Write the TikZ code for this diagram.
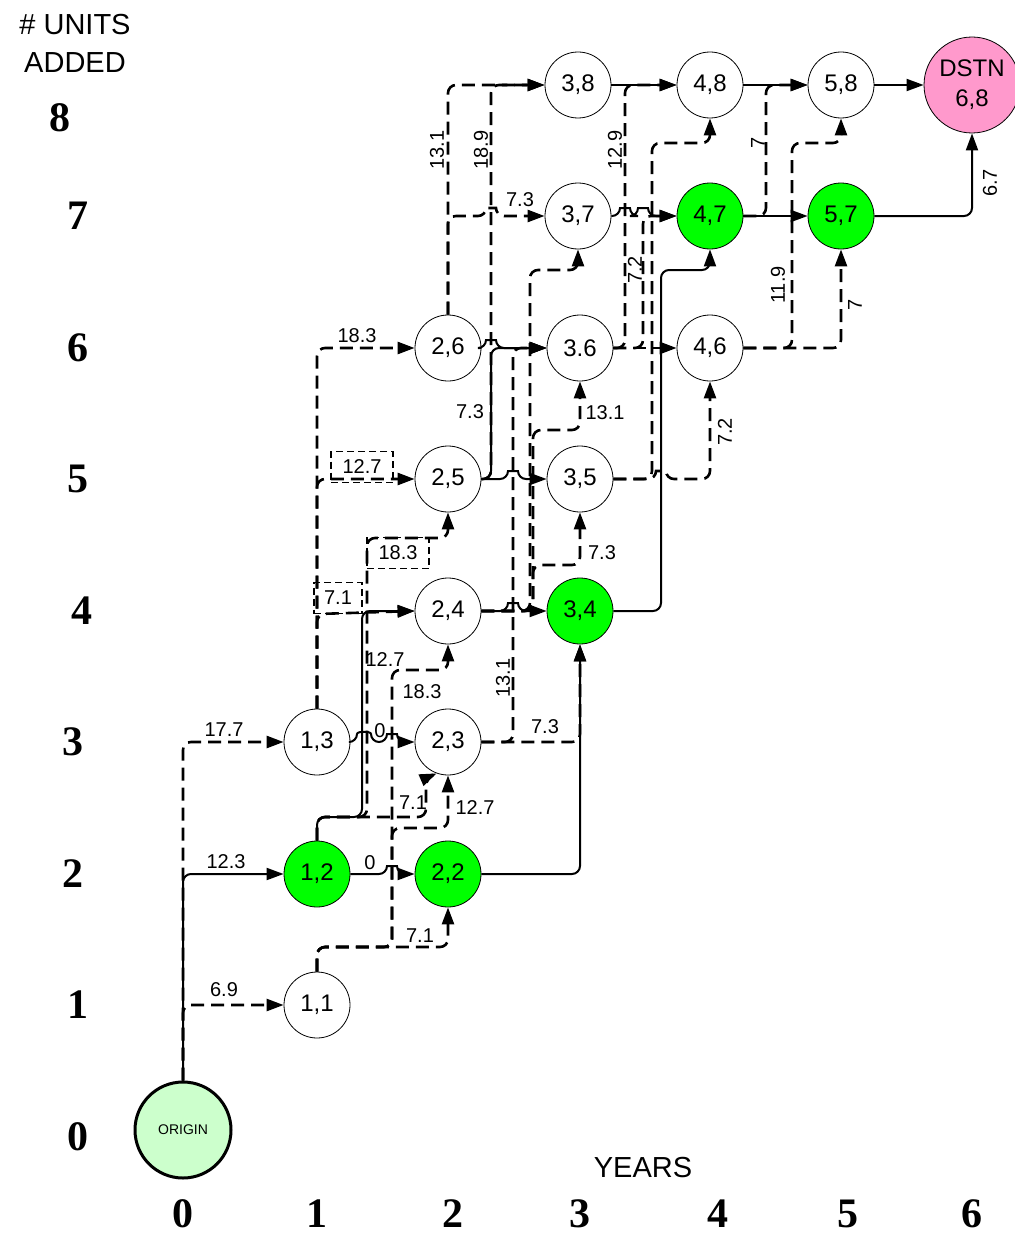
\documentclass[tikz,border=0pt]{standalone}
\usepackage{fontspec}
\setmainfont{Liberation Sans}
\newfontfamily\axisfont{Liberation Serif}
\usetikzlibrary{arrows.meta}
\definecolor{nodegreen}{HTML}{00FF00}
\definecolor{origgreen}{HTML}{CCFFCC}
\definecolor{dstpink}{HTML}{FF99CC}
\begin{document}
\begin{tikzpicture}[x=1pt,y=-1pt,
  st/.style={circle,draw,line width=0.8pt,minimum size=66pt,inner sep=0pt,font=\fontsize{24}{24}\selectfont,fill=white},
  grn/.style={st,fill=nodegreen},
  sol/.style={line width=2pt,rounded corners=8pt,-{Triangle[length=17pt,width=12pt]}},
  dsh/.style={sol,line width=2.6pt,dash pattern=on 13pt off 7pt},
  lab/.style={font=\fontsize{20}{20}\selectfont,inner sep=0pt},
  rlab/.style={lab,rotate=90},
  blab/.style={lab,draw,line width=1.5pt,dash pattern=on 7pt off 4pt,minimum width=62pt,minimum height=31pt},
  ax/.style={font=\axisfont\bfseries\fontsize{42}{42}\selectfont,inner sep=0pt},
  xax/.style={ax,anchor=base},
  ttl/.style={font=\fontsize{29}{38}\selectfont,inner sep=0pt,align=center}]
\useasboundingbox (0,0) rectangle (1014,1236);

% nodes
\node[circle,draw,line width=3pt,fill=origgreen,minimum size=96pt,inner sep=0pt,font=\fontsize{14}{14}\selectfont] (O) at (183,1130) {ORIGIN};
\node[st] (n11) at (317,1005) {1,1};
\node[grn] (n12) at (317,874) {1,2};
\node[st] (n13) at (317,742) {1,3};
\node[grn] (n22) at (448,874) {2,2};
\node[st] (n23) at (448,742) {2,3};
\node[st] (n24) at (448,611) {2,4};
\node[st] (n25) at (448,479) {2,5};
\node[st] (n26) at (448,348) {2,6};
\node[grn] (n34) at (580,611) {3,4};
\node[st] (n35) at (580,479) {3,5};
\node[st] (n36) at (580,348) {3.6};
\node[st] (n37) at (578,216) {3,7};
\node[st] (n38) at (578,85) {3,8};
\node[st] (n46) at (710,348) {4,6};
\node[grn] (n47) at (710,216) {4,7};
\node[st] (n48) at (710,85) {4,8};
\node[grn] (n57) at (841,216) {5,7};
\node[st] (n58) at (841,85) {5,8};
\node[circle,draw,line width=0.8pt,fill=dstpink,minimum size=96pt,inner sep=0pt,align=center,font=\fontsize{24}{30}\selectfont] (D) at (972,85) {DSTN\\6,8};

% origin edges
\draw[dsh] (O.north) -- (183,1005) -- (n11.west);
\draw[sol] (O.north) -- (183,874) -- (n12.west);
\draw[dsh] (O.north) -- (183,742) -- (n13.west);

% from 1,1
\draw[dsh] (n11.north) -- (317,947) -- (448,947) -- (n22.south);
\draw[dsh] (n11.north) -- (317,947) -- (392,947) -- (392,828) -- (448,828) -- (n23.south);
\draw[dsh] (n11.north) -- (317,947) -- (392,947) -- (392,670) -- (448,670) -- (n24.south);

% from 1,2
\draw[sol] (n12.east) -- (387,874) .. controls (387,866) and (397,866) .. (397,874) -- (n22.west);
\draw[sol] (n12.north) -- (317,817) -- (362,817) -- (362,611) -- (n24.west);
\draw[dsh] (n12.north) -- (317,817) -- (426,817) -- (426,778) -- (n23.-110);
\draw[dsh] (n12.north) -- (317,817) -- (367,817) -- (367,538) -- (448,538) -- (n25.south);

% from 1,3
\draw[sol] (n13.east) -- (357,742) .. controls (357,731) and (371,731) .. (371,742) -- (387,742) .. controls (387,734) and (397,734) .. (397,742) -- (n23.west);
\draw[dsh] (n13.north) -- (317,348) -- (n26.west);
\draw[dsh] (n13.north) -- (317,479) -- (n25.west);
\draw[dsh] (n13.north) -- (317,614) -- (n24.west);

% from 2,2 / 2,3
\draw[sol] (n22.east) -- (580,874) -- (n34.south);
\draw[dsh] (n23.east) -- (580,742) -- (n34.south);
\draw[dsh] (n23.east) -- (513,742) -- (513,348) -- (n36.west);

% from 2,4
\draw[sol] (n24.east) -- (508,611) .. controls (508,603) and (518,603) .. (518,611) -- (n34.west);
\draw[dsh] (n24.east) -- (533,611) -- (533,565) -- (580,565) -- (n35.south);
\draw[dsh] (n24.east) -- (533,611) -- (533,430) -- (580,430) -- (n36.south);
\draw[dsh] (n24.east) -- (530,611) -- (530,270) -- (578,270) -- (n37.south);

% from 2,5
\draw[sol] (n25.east) -- (508,479) .. controls (508,471) and (518,471) .. (518,479) -- (n35.west);
\draw[sol] (n25.east) -- (491,479) -- (491,348) -- (n36.west);
\draw[dsh] (n25.east) -- (491,479) -- (491,85) -- (n38.west);

% from 2,6
\draw[sol] (n26.east) -- (486,348) .. controls (486,340) and (496,340) .. (496,348) -- (n36.west);
\draw[dsh] (n26.north) -- (448,216) -- (486,216) .. controls (486,208) and (496,208) .. (496,216) -- (n37.west);
\draw[dsh] (n26.north) -- (448,85) -- (n38.west);

% year 3 -> 4
\draw[sol] (n34.east) -- (661,611) -- (661,270) -- (710,270) -- (n47.south);
\draw[dsh] (n35.east) -- (656,479) .. controls (656,471) and (666,471) .. (666,479) -- (710,479) -- (n46.south);
\draw[dsh] (n35.east) -- (652,479) -- (652,143) -- (710,143) -- (n48.south);
\draw[dsh] (n36.east) -- (n46.west);
\draw[dsh] (n36.east) -- (643,348) -- (643,216) -- (n47.west);
\draw[dsh] (n36.east) -- (625,348) -- (625,85) -- (n48.west);
\draw[sol] (n37.east) -- (620,216) .. controls (620,208) and (630,208) .. (630,216) -- (638,216) .. controls (638,208) and (648,208) .. (648,216) -- (n47.west);
\draw[sol] (n38.east) -- (n48.west);

% year 4 -> 5
\draw[dsh] (n46.east) -- (841,348) -- (n57.south);
\draw[dsh] (n46.east) -- (792,348) -- (792,143) -- (841,143) -- (n58.south);
\draw[sol] (n47.east) -- (n57.west);
\draw[dsh] (n47.east) -- (766,216) -- (766,85) -- (n58.west);
\draw[sol] (n48.east) -- (n58.west);

% year 5 -> 6
\draw[sol] (n57.east) -- (972,216) -- (D.south);
\draw[sol] (n58.east) -- (D.west);

% edge labels
\node[lab] (l1) at (224,990) {6.9};
\node[lab] (l2) at (226,862) {12.3};
\node[lab] (l3) at (224,730) {17.7};
\node[lab] (l4) at (420,936) {7.1};
\node[lab] (l5) at (475,808) {12.7};
\node[lab] (l6) at (422,692) {18.3};
\node[lab] (l7) at (370,863) {0};
\node[lab] (l8) at (385,660) {12.7};
\node[lab] (l9) at (413,803) {7.1};
\node[blab] (l10) at (398,553) {18.3};
\node[lab] (l11) at (380,731) {0};
\node[lab] (l12) at (357,336) {18.3};
\node[blab] (l13) at (362,467) {12.7};
\node[blab,minimum width=48pt] (l14) at (338,598) {7.1};
\node[lab] (l15) at (545,727) {7.3};
\node[rlab] (l16) at (503,678) {13.1};
\node[lab] (l17) at (602,553) {7.3};
\node[lab] (l18) at (605,413) {13.1};
\node[lab] (l19) at (470,412) {7.3};
\node[rlab] (l20) at (481,150) {18.9};
\node[lab] (l21) at (520,200) {7.3};
\node[rlab] (l22) at (437,150) {13.1};
\node[rlab] (l23) at (725,432) {7.2};
\node[rlab] (l24) at (635,270) {7.2};
\node[rlab] (l25) at (615,150) {12.9};
\node[rlab] (l26) at (855,305) {7};
\node[rlab] (l27) at (778,285) {11.9};
\node[rlab] (l28) at (758,143) {7};
\node[rlab] (l29) at (990,183) {6.7};

% axes
\node[ttl] (t1) at (75,43) {\# UNITS\\ADDED};
\node[ttl] (t2) at (643,1168) {YEARS};
\node[ax] (y8) at (60,118) {8};
\node[ax] (y7) at (78,216) {7};
\node[ax] (y6) at (78,348) {6};
\node[ax] (y5) at (78,479) {5};
\node[ax] (y4) at (82,611) {4};
\node[ax] (y3) at (73,742) {3};
\node[ax] (y2) at (73,874) {2};
\node[ax] (y1) at (78,1005) {1};
\node[ax] (y0) at (78,1137) {0};
\node[xax] (x0) at (183,1227) {0};
\node[xax] (x1) at (317,1227) {1};
\node[xax] (x2) at (453,1227) {2};
\node[xax] (x3) at (580,1227) {3};
\node[xax] (x4) at (718,1227) {4};
\node[xax] (x5) at (848,1227) {5};
\node[xax] (x6) at (972,1227) {6};
\end{tikzpicture}
\end{document}
